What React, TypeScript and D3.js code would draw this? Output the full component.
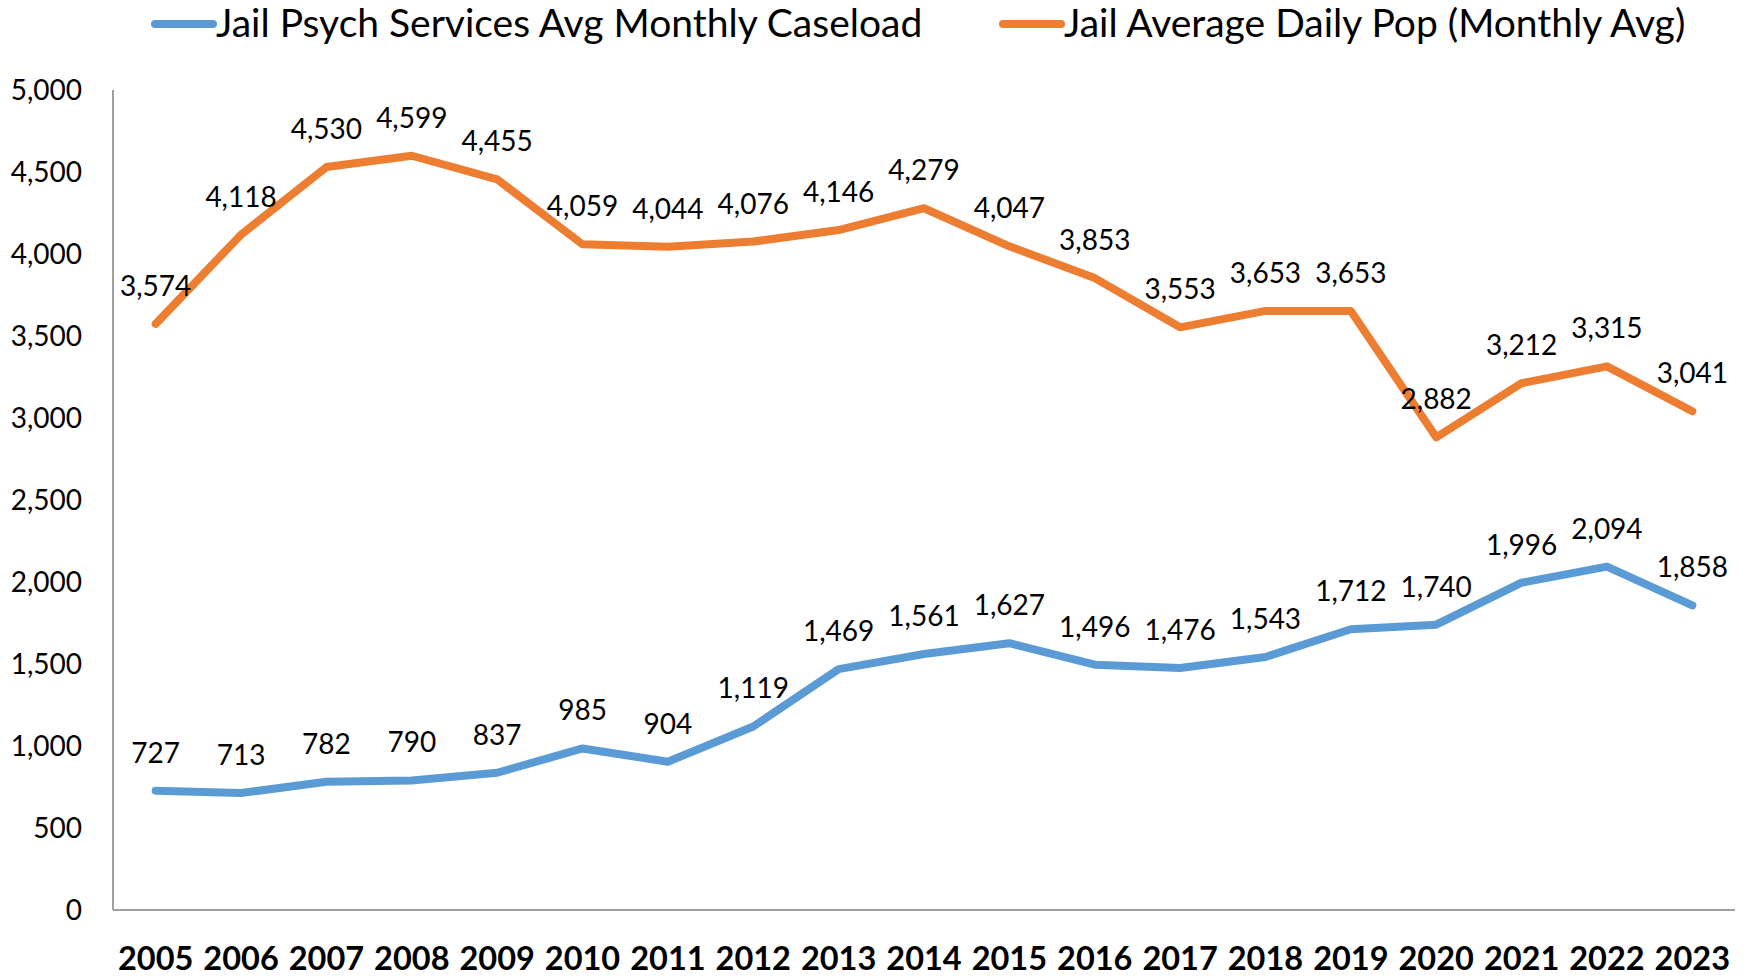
import React from "react";
import * as d3 from "d3";

const years = ["2005","2006","2007","2008","2009","2010","2011","2012","2013","2014","2015","2016","2017","2018","2019","2020","2021","2022","2023"];
const caseload = [727, 713, 782, 790, 837, 985, 904, 1119, 1469, 1561, 1627, 1496, 1476, 1543, 1712, 1740, 1996, 2094, 1858];
const adp = [3574, 4118, 4530, 4599, 4455, 4059, 4044, 4076, 4146, 4279, 4047, 3853, 3553, 3653, 3653, 2882, 3212, 3315, 3041];
const yTicks = [0, 500, 1000, 1500, 2000, 2500, 3000, 3500, 4000, 4500, 5000];
const seriesNames = ["Jail Psych Services Avg Monthly Caseload", "Jail Average Daily Pop (Monthly Avg)"];
const colors = ["#5B9BD5", "#ED7D31"];

const W = 1748, H = 976;
const FONT = "Lato, 'Open Sans', sans-serif";

export default function App() {
  const x = d3.scaleBand<string>().domain(years).range([113, 1735]);
  const y = d3.scaleLinear().domain([0, 5000]).range([910, 90]);
  const cx = (i: number) => (x(years[i]) as number) + x.bandwidth() / 2;
  const line = d3.line<number>().x((_, i) => cx(i)).y((d) => y(d));
  const fmt = d3.format(",");
  const series = [caseload, adp];
  const legendX = [155, 1003];

  return (
    <svg width={W} height={H} style={{ position: "absolute", left: 0, top: 0, display: "block", background: "#fff" }} fontFamily={FONT}>
      <rect x={0} y={0} width={W} height={H} fill="#fff" />
      {/* legend */}
      {seriesNames.map((name, k) => (
        <g key={name}>
          <line x1={legendX[k]} x2={legendX[k] + 58} y1={24} y2={24} stroke={colors[k]} strokeWidth={8} strokeLinecap="round" />
          <text x={legendX[k] + 61} y={37} fontSize={39} fill="#000">{name}</text>
        </g>
      ))}
      {/* axes */}
      <line x1={113} x2={113} y1={y(5000)} y2={y(0)} stroke="#a0a0a0" strokeWidth={2} />
      <line x1={113} x2={1735} y1={y(0)} y2={y(0)} stroke="#a0a0a0" strokeWidth={2} />
      {yTicks.map((t) => (
        <text key={t} x={82} y={y(t)} dy="0.36em" textAnchor="end" fontSize={28} fill="#000">{fmt(t)}</text>
      ))}
      {years.map((yr, i) => (
        <text key={yr} x={cx(i)} y={970} textAnchor="middle" fontSize={32.5} fontWeight="bold" fill="#000">{yr}</text>
      ))}
      {/* lines */}
      {series.map((s, k) => (
        <path key={k} d={line(s) as string} fill="none" stroke={colors[k]} strokeWidth={8} strokeLinecap="round" strokeLinejoin="round" />
      ))}
      {/* data labels */}
      {series.map((s, k) =>
        s.map((v, i) => (
          <text key={`${k}-${i}`} x={cx(i)} y={y(v) - 28} textAnchor="middle" fontSize={28} fill="#000">{fmt(v)}</text>
        ))
      )}
    </svg>
  );
}
